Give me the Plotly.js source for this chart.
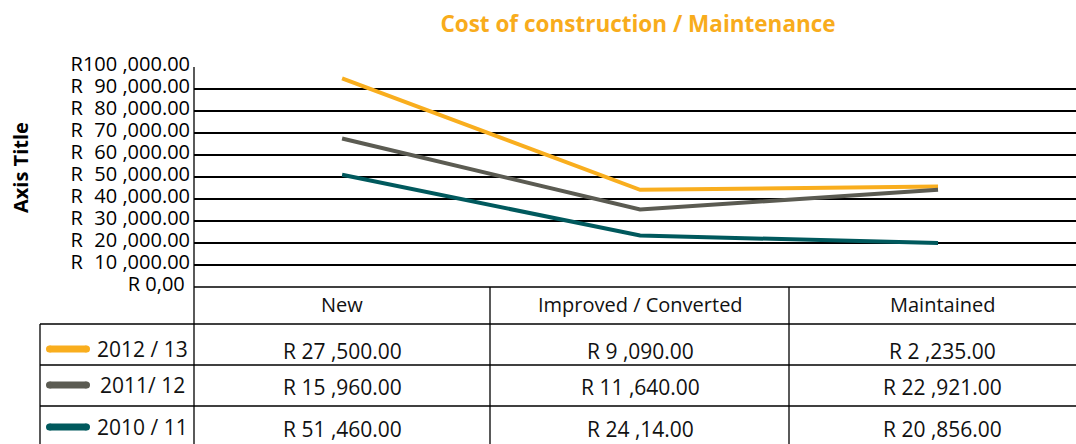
<!DOCTYPE html>
<html>
<head>
<meta charset="utf-8">
<script src="https://cdn.plot.ly/plotly-3.0.1.min.js"></script>
<style>html,body{margin:0;padding:0;background:#fff;}#chart{width:1076px;height:444px;}</style>
</head>
<body>
<div id="chart"></div>
<script>
// ---- data ----
const categories = ["New", "Improved / Converted", "Maintained"];
const seriesNames = ["2012 / 13", "2011/ 12", "2010 / 11"];
const values2012 = [94800, 44200, 45700];
const values2011 = [67500, 35200, 44200];
const values2010 = [51000, 23400, 20000];
const tableText2012 = ["R 27 ,500.00", "R 9 ,090.00", "R 2 ,235.00"];
const tableText2011 = ["R 15 ,960.00", "R 11 ,640.00", "R 22 ,921.00"];
const tableText2010 = ["R 51 ,460.00", "R 24 ,14.00", "R 20 ,856.00"];
const tickVals = [0, 10000, 20000, 30000, 40000, 50000, 60000, 70000, 80000, 90000, 100000];
const tickText = ["R 0,00 ", "R\u200710 ,000.00", "R\u200720 ,000.00", "R\u200730 ,000.00", "R\u200740 ,000.00",
  "R\u200750 ,000.00", "R\u200760 ,000.00", "R\u200770 ,000.00", "R\u200780 ,000.00", "R\u200790 ,000.00", "R100 ,000.00"];

// ---- styles / layout constants ----
const colors = ["#F9AE1E", "#5B5B52", "#00595D"];
const W = 1076, H = 444;
const px = x => x / W, py = y => 1 - y / H;
const plotLeft = 194, plotTop = 67, plotBottom = 287;
const tableLeft = 40, colDividers = [490, 789];
const rowLines = [324, 365, 406];
const rowTextY = [351, 387, 429];
const colCenters = [342, 640, 942];
const FONT = "Open Sans, Noto Sans, sans-serif";

const seriesValues = [values2012, values2011, values2010];
const tableRows = [tableText2012, tableText2011, tableText2010];

const traces = seriesValues.map((v, i) => ({
  type: "scatter", mode: "lines", name: seriesNames[i],
  x: categories, y: v,
  line: {color: colors[i], width: 4},
  hoverinfo: "x+y+name"
}));

const shapes = [];
const annotations = [];
const L = (x0, y0, x1, y1, w) => shapes.push({type: "line", xref: "paper", yref: "paper",
  x0: px(x0), y0: py(y0), x1: px(x1), y1: py(y1), line: {color: "#000", width: w || 1.3}});

// zero gridline, vertical axis line extending through table
L(plotLeft, plotBottom, W, plotBottom);
L(plotLeft, plotTop, plotLeft, H);
L(tableLeft, rowLines[0], tableLeft, H);
colDividers.forEach(x => L(x, plotBottom, x, H));
rowLines.forEach(y => L(tableLeft, y, W, y));

// header
categories.forEach((c, j) => annotations.push({xref: "paper", yref: "paper", x: px(colCenters[j]), y: py(304),
  text: c, showarrow: false, xanchor: "center", yanchor: "middle", font: {family: FONT, size: 20, color: "#111"}}));

// rows
tableRows.forEach((row, i) => {
  row.forEach((t, j) => annotations.push({xref: "paper", yref: "paper", x: px(colCenters[j]), y: py(rowTextY[i]),
    text: t, showarrow: false, xanchor: "center", yanchor: "middle", font: {family: FONT, size: 21, color: "#111"}}));
  annotations.push({xref: "paper", yref: "paper", x: px(142), y: py(rowTextY[i] - 2),
    text: seriesNames[i], showarrow: false, xanchor: "center", yanchor: "middle", font: {family: FONT, size: 21, color: "#111"}});
  // legend swatch (capsule)
  const yc = rowTextY[i] - 2, r = 3.5, x0 = 46, x1 = 90;
  shapes.push({type: "rect", xref: "paper", yref: "paper", x0: px(x0 + r), x1: px(x1 - r), y0: py(yc - r), y1: py(yc + r),
    fillcolor: colors[i], line: {width: 0}});
  shapes.push({type: "circle", xref: "paper", yref: "paper", x0: px(x0), x1: px(x0 + 2 * r), y0: py(yc - r), y1: py(yc + r),
    fillcolor: colors[i], line: {width: 0}});
  shapes.push({type: "circle", xref: "paper", yref: "paper", x0: px(x1 - 2 * r), x1: px(x1), y0: py(yc - r), y1: py(yc + r),
    fillcolor: colors[i], line: {width: 0}});
});

// y axis title
annotations.push({xref: "paper", yref: "paper", x: px(20), y: py(168), text: "<b>Axis Title</b>", textangle: -90,
  showarrow: false, xanchor: "center", yanchor: "middle", font: {family: FONT, size: 20, color: "#000"}});

const layout = {
  width: W, height: H,
  margin: {l: 0, r: 0, t: 0, b: 0},
  paper_bgcolor: "#fff", plot_bgcolor: "#fff",
  showlegend: false,
  title: {text: "<b>Cost of construction / Maintenance</b>", x: px(638), xanchor: "center",
    y: py(24), yref: "container", yanchor: "middle", font: {family: FONT, size: 22.5, color: "#F8AC1C"}},
  xaxis: {type: "category", domain: [px(plotLeft), 1], range: [-0.497, 2.463], showgrid: false,
    showticklabels: false, zeroline: false, showline: false, ticks: "", fixedrange: true},
  yaxis: {domain: [py(plotBottom), py(plotTop)], range: [0, 100000], tickvals: tickVals, ticktext: tickText,
    showgrid: true, gridcolor: "#000", gridwidth: 1.3, zeroline: false, showline: false, ticks: "",
    tickfont: {family: FONT, size: 20, color: "#000"}, ticklabelstandoff: 3, ticklabelshift: -3, fixedrange: true},
  shapes: shapes,
  annotations: annotations
};

Plotly.newPlot("chart", traces, layout, {displayModeBar: false, staticPlot: true});
</script>
</body>
</html>
